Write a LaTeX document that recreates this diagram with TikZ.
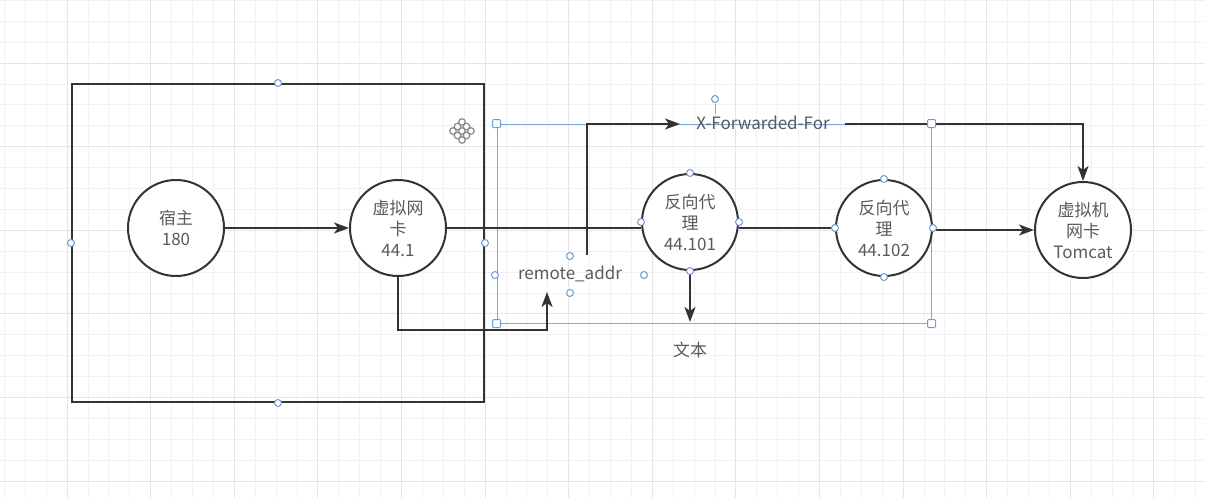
\documentclass[tikz,border=0pt]{standalone}
\usepackage{fontspec}
\setmainfont{Noto Sans CJK SC}
\usetikzlibrary{arrows.meta}
\definecolor{ink}{HTML}{333333}
\definecolor{txt}{HTML}{5A5A5A}
\definecolor{gridminor}{HTML}{F1F1F1}
\definecolor{gridmajor}{HTML}{E5E5E5}
\definecolor{selblue}{HTML}{7FA9E3}
\definecolor{hdl}{HTML}{6F9BD6}
\definecolor{iconc}{HTML}{8A8A8A}
\begin{document}
\begin{tikzpicture}[x=1pt,y=-1pt,
  circ/.style={circle,draw=ink,line width=2pt,fill=white,minimum size=96pt,inner sep=0pt,align=center,text=txt,font=\fontsize{17}{21}\selectfont},
  lbl/.style={text=txt,font=\fontsize{17}{21}\selectfont,inner sep=1pt},
  conn/.style={draw=ink,line width=2pt},
  arr/.style={conn,-{Stealth[length=15pt,width=11pt,inset=4pt]}},
  hnd/.style={circle,draw=hdl,fill=white,line width=1pt,minimum size=7pt,inner sep=0pt},
  sqh/.style={rectangle,draw=hdl,fill=white,line width=1pt,minimum size=8pt,inner sep=0pt,rounded corners=1pt},
  icondot/.style={draw=iconc,line width=1.2pt},
]
\useasboundingbox (0,0) rectangle (1205,498);
\fill[white] (0,0) rectangle (1205,498);
% grid
\begin{scope}
\clip (0,0) rectangle (1205,498);
\foreach \i in {-3,...,54} {
  \draw[gridminor,line width=0.8pt] ({67+20.9*\i},0) -- ({67+20.9*\i},498);
}
\foreach \j in {-3,...,21} {
  \draw[gridminor,line width=0.8pt] (0,{63+20.9*\j}) -- (1205,{63+20.9*\j});
}
\foreach \i in {-1,0,...,14} {
  \draw[gridmajor,line width=1pt] ({67+83.6*\i},0) -- ({67+83.6*\i},498);
}
\foreach \j in {-1,0,...,6} {
  \draw[gridmajor,line width=1pt] (0,{63+83.6*\j}) -- (1205,{63+83.6*\j});
}
\end{scope}

% container box
\node[draw=ink,line width=2pt,minimum width=412pt,minimum height=318pt,inner sep=0pt] (box) at (278,243) {};

% selection rectangle
\node[draw=selblue,line width=1pt,minimum width=434pt,minimum height=199pt,inner sep=0pt] (sel) at (714,223.5) {};

% circles
\node[circ] (host) at (176,228) {宿主\\180};
\node[circ] (vnic) at (398,228) {虚拟网\\卡\\44.1};
\node[circ] (p1) at (690,222) {反向代\\理\\44.101};
\node[circ] (p2) at (884,228) {反向代\\理\\44.102};
\node[circ] (tc) at (1083,230) {虚拟机\\网卡\\Tomcat};

% labels
\node[lbl] (ra) at (570,274) {remote\_addr};
\node[lbl] (xff) at (763,123) {X-Forwarded-For};
\node[lbl] (wb) at (690,350) {文本};

% helper coordinates
\coordinate (raIn) at (547,292);
\coordinate (raOut) at (587,255);
\coordinate (xffIn) at (680,124);
\coordinate (xffOut) at (845,124);
\coordinate (wbIn) at (690,322);

% connectors
\draw[arr] (host.east) -- (vnic.west);
\draw[conn] (vnic.east) -- (vnic.east -| p1.west);
\draw[conn] (p1.east |- p2.west) -- (p2.west);
\draw[arr] (p2.east |- tc.west) -- (tc.west);
\draw[arr] (vnic.south) |- (547,330) -- (raIn);
\draw[arr] (raOut) |- (xffIn);
\draw[arr] (xffOut) -| (tc.north);
\draw[arr] (p1.south) -- (wbIn);

% move icon
\foreach \dx/\dy in {0/-9,-4.5/-4.5,4.5/-4.5,-9/0,0/0,9/0,-4.5/4.5,4.5/4.5,0/9} {
  \draw[icondot] ({462+\dx},{131+\dy}) circle (3.3pt);
}

% rotate handle
\draw[selblue,line width=0.8pt] (715,104) -- (715,114);
\node[hnd] (rot) at (715,99) {};

% handles
\node[sqh] (s1) at (sel.north west) {};
\node[sqh] (s2) at (sel.north east) {};
\node[sqh] (s3) at (sel.south west) {};
\node[sqh] (s4) at (sel.south east) {};
\node[hnd] (b1) at (box.north) {};
\node[hnd] (b2) at (box.south) {};
\node[hnd] (b3) at (box.west) {};
\node[hnd] (b4) at (box.east) {};
\node[hnd] (h1) at (p1.north) {};
\node[hnd] (h2) at (p1.south) {};
\node[hnd] (h3) at (p1.west) {};
\node[hnd] (h4) at (p1.east) {};
\node[hnd] (h5) at (p2.north) {};
\node[hnd] (h6) at (p2.south) {};
\node[hnd] (h7) at (p2.west) {};
\node[hnd] (h8) at (p2.east) {};
\node[hnd] (r1) at (570,256) {};
\node[hnd] (r2) at (570,293) {};
\node[hnd] (r3) at (495,275) {};
\node[hnd] (r4) at (644,275) {};
\end{tikzpicture}
\end{document}
